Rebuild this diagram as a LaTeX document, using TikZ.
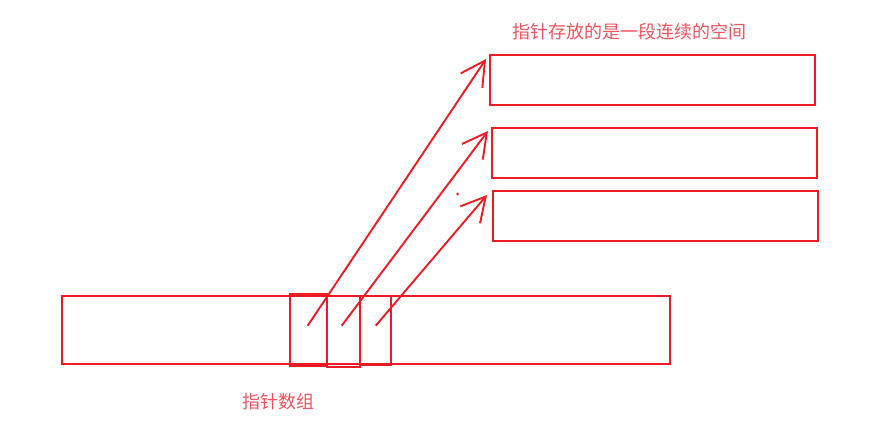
\documentclass[tikz,border=0pt]{standalone}
\usepackage{fontspec}
\newfontfamily\cjk{Noto Sans CJK SC}
\usetikzlibrary{arrows.meta}
\definecolor{lred}{RGB}{237,28,36}
\definecolor{tred}{RGB}{240,85,95}
\begin{document}
\begin{tikzpicture}[x=1pt,y=-1pt,
  box/.style={draw=lred,line width=2pt},
  cell/.style={draw=lred,line width=2.6pt},
  ptr/.style={draw=lred,line width=1.9pt,-{Straight Barb[length=24pt,width=26pt,line width=1.9pt]}},
  lab/.style={text=tred,font=\cjk\fontsize{18pt}{21pt}\selectfont,inner sep=0pt}]
\useasboundingbox (0,0) rectangle (872,423);
% big array
\draw[box] (62,296) rectangle (670,364);
% cells
\draw[cell] (290,294) rectangle (327,366);
\draw[cell] (327,296) rectangle (360,367);
\draw[cell] (360,296) rectangle (391,365);
% memory blocks
\draw[box] (490,55) rectangle (815,105);
\draw[box] (492,128) rectangle (817,178);
\draw[box] (493,191) rectangle (818,241);
% pointer starts and tips
\coordinate (s1) at (307.7,325.7);
\coordinate (s2) at (341.7,325.7);
\coordinate (s3) at (375.7,325.7);
\coordinate (t1) at (486,59);
\coordinate (t2) at (488,131);
\coordinate (t3) at (487,195);
\draw[ptr] (s1) -- (t1);
\draw[ptr] (s2) -- (t2);
\draw[ptr] (s3) -- (t3);
\fill[lred] (457.7,194) circle (1.5pt);
% labels
\node[lab,anchor=west] (top) at (512,32) {指针存放的是一段连续的空间};
\node[lab,anchor=west] (bot) at (242,402) {指针数组};
\end{tikzpicture}
\end{document}
